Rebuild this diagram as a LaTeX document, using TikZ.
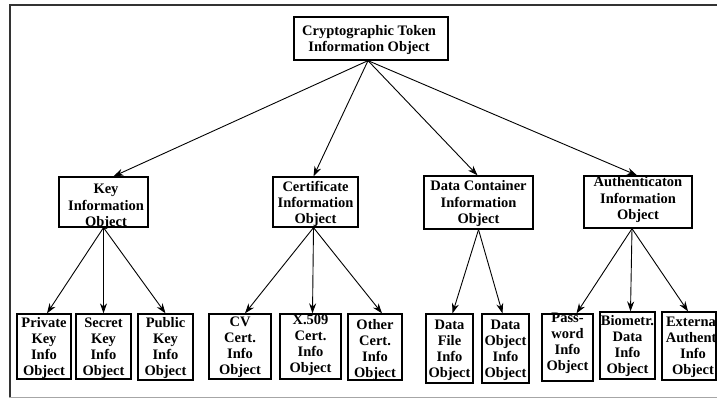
\documentclass[tikz,border=0pt]{standalone}
\usepackage{fontspec}
\setmainfont{Liberation Serif}
\usetikzlibrary{arrows.meta}
\begin{document}
\begin{tikzpicture}[x=1pt,y=-1pt,
  box/.style={draw, line width=1.3pt, inner sep=0pt},
  txt/.style={font=\bfseries\fontsize{14.5}{16}\selectfont, align=center, inner sep=0pt},
  conn/.style={line width=0.9pt, -{Stealth[length=10pt,width=7pt]}}]
\useasboundingbox (0,0) rectangle (717,398);
% frame
\draw[line width=2pt, black!80] (9,5.5) -- (717,5.5);
\draw[line width=2pt, black!80] (10,4.5) -- (10,398);
\draw[line width=0.8pt, black!35] (9,397) -- (717,397);
% root
\node[box, minimum width=154pt, minimum height=43pt] (root) at (371,38.5) {};
\node[txt] (roott) at (369,40) {Cryptographic Token\\Information Object};
% mid level
\node[box, minimum width=89pt, minimum height=50pt] (key) at (103.5,202) {};
\node[txt, font=\bfseries\fontsize{14.5}{16.5}\selectfont] (keyt) at (106,207) {Key\\Information\\Object};
\node[box, minimum width=85pt, minimum height=50pt] (cert) at (315.5,202) {};
\node[txt, font=\bfseries\fontsize{14.5}{16}\selectfont] (certt) at (315.5,204) {Certificate\\Information\\Object};
\node[box, minimum width=109pt, minimum height=53pt] (data) at (478.5,202.5) {};
\node[txt, font=\bfseries\fontsize{14.5}{16.5}\selectfont] (datat) at (478.5,204) {Data Container\\Information\\Object};
\node[box, minimum width=108pt, minimum height=52pt] (auth) at (638,202) {};
\node[txt, font=\bfseries\fontsize{14.5}{16.5}\selectfont] (autht) at (638,200) {Authenticaton\\Information\\Object};
% leaves
\node[box, minimum width=54pt, minimum height=65pt] (priv) at (44,346.5) {};
\node[txt] at (44,348) {Private\\Key\\Info\\Object};
\node[box, minimum width=55pt, minimum height=65pt] (sec) at (103.5,346.5) {};
\node[txt] at (103.5,348) {Secret\\Key\\Info\\Object};
\node[box, minimum width=55pt, minimum height=66pt] (pub) at (165.5,347) {};
\node[txt] at (165.5,348) {Public\\Key\\Info\\Object};
\node[box, minimum width=62pt, minimum height=65pt] (cv) at (240,346.5) {};
\node[txt] at (240,347) {CV\\Cert.\\Info\\Object};
\node[box, minimum width=61pt, minimum height=65pt] (x509) at (310.5,346.5) {};
\node[txt] at (310.5,345) {X.509\\Cert.\\Info\\Object};
\node[box, minimum width=54pt, minimum height=66pt] (oth) at (375,347) {};
\node[txt] at (375,350) {Other\\Cert.\\Info\\Object};
\node[box, minimum width=47pt, minimum height=69pt] (dfile) at (449.5,348.5) {};
\node[txt] at (449.5,350) {Data\\File\\Info\\Object};
\node[box, minimum width=47pt, minimum height=69pt] (dobj) at (505.5,348.5) {};
\node[txt] at (505.5,350) {Data\\Object\\Info\\Object};
\node[box, minimum width=51pt, minimum height=67pt] (pass) at (567.5,347.5) {};
\node[txt] at (567.5,343) {Pass-\\word\\Info\\Object};
\node[box, minimum width=55pt, minimum height=67pt] (bio) at (627.5,345.5) {};
\node[txt] at (627.5,346) {Biometr.\\Data\\Info\\Object};
\node[box, minimum width=54pt, minimum height=68pt] (ext) at (689,346) {};
\node[txt] at (693,347) {External\\Authent.\\Info\\Object};
% connectors
\draw[conn] ([xshift=-3pt]root.south) -- ([xshift=10pt]key.north);
\draw[conn] ([xshift=-3pt]root.south) -- ([xshift=-2pt]cert.north);
\draw[conn] ([xshift=-3pt]root.south) -- ([xshift=-1pt]data.north);
\draw[conn] ([xshift=-3pt]root.south) -- ([xshift=-1pt]auth.north);
\draw[conn] (key.south) -- ([xshift=3pt]priv.north);
\draw[conn] (key.south) -- (sec.north);
\draw[conn] (key.south) -- (pub.north);
\draw[conn] ([xshift=-2pt]cert.south) -- ([xshift=5pt]cv.north);
\draw[conn] ([xshift=-2pt]cert.south) -- ([xshift=2pt]x509.north);
\draw[conn] ([xshift=-2pt]cert.south) -- ([xshift=7pt]oth.north);
\draw[conn] (data.south) -- ([xshift=3pt]dfile.north);
\draw[conn] (data.south) -- ([xshift=-3pt]dobj.north);
\draw[conn] ([xshift=-6pt]auth.south) -- ([xshift=9pt]pass.north);
\draw[conn] ([xshift=-6pt]auth.south) -- ([xshift=3pt]bio.north);
\draw[conn] ([xshift=-6pt]auth.south) -- ([xshift=-1pt]ext.north);
\end{tikzpicture}
\end{document}
